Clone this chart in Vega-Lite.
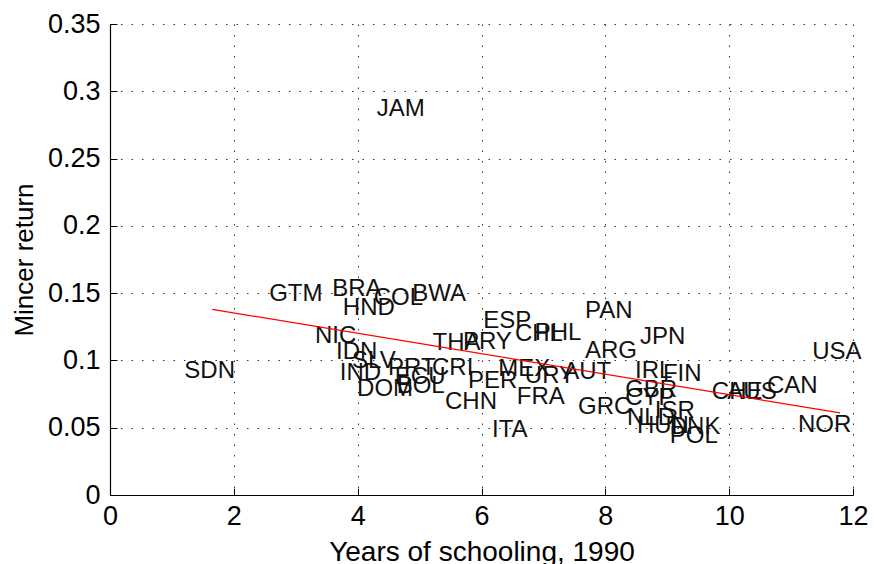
{
  "$schema": "https://vega.github.io/schema/vega-lite/v6.json",
  "width": 743,
  "height": 471,
  "autosize": {"type": "none"},
  "padding": {"left": 110, "top": 24, "right": 21, "bottom": 69},
  "background": "white",
  "config": {
    "view": {"stroke": null},
    "font": "Liberation Sans",
    "axis": {
      "domainColor": "black",
      "domainWidth": 1.2,
      "tickColor": "black",
      "tickSize": -7,
      "labelColor": "black",
      "labelFont": "Liberation Sans",
      "labelFontSize": 27,
      "labelFlush": false,
      "labelOverlap": false,
      "titleFont": "Liberation Sans",
      "titleFontSize": 26,
      "titleFontWeight": "normal",
      "titleColor": "black",
      "grid": true,
      "gridColor": "black",
      "gridDash": [1.5, 9],
      "gridOpacity": 0.8
    }
  },
  "datasets": {
    "countries": [
      {"code": "JAM", "school": 4.31, "mincer": 0.287},
      {"code": "SDN", "school": 1.2, "mincer": 0.0921},
      {"code": "GTM", "school": 2.57, "mincer": 0.1494},
      {"code": "BRA", "school": 3.59, "mincer": 0.153},
      {"code": "HND", "school": 3.76, "mincer": 0.1386},
      {"code": "COL", "school": 4.26, "mincer": 0.1464},
      {"code": "BWA", "school": 4.88, "mincer": 0.1497},
      {"code": "NIC", "school": 3.31, "mincer": 0.118},
      {"code": "IDN", "school": 3.65, "mincer": 0.1059},
      {"code": "IND", "school": 3.71, "mincer": 0.091},
      {"code": "SLV", "school": 3.91, "mincer": 0.0996},
      {"code": "DOM", "school": 3.99, "mincer": 0.0788},
      {"code": "PRT", "school": 4.49, "mincer": 0.0947},
      {"code": "ECU", "school": 4.6, "mincer": 0.0877},
      {"code": "BOL", "school": 4.63, "mincer": 0.081},
      {"code": "THA", "school": 5.21, "mincer": 0.1133},
      {"code": "CRI", "school": 5.2, "mincer": 0.0947},
      {"code": "CHN", "school": 5.41, "mincer": 0.069},
      {"code": "PAN", "school": 7.67, "mincer": 0.1367},
      {"code": "ESP", "school": 6.03, "mincer": 0.1293},
      {"code": "PRY", "school": 5.7, "mincer": 0.1137},
      {"code": "CHL", "school": 6.54, "mincer": 0.1196},
      {"code": "PHL", "school": 6.86, "mincer": 0.1204},
      {"code": "JPN", "school": 8.56, "mincer": 0.1174},
      {"code": "ARG", "school": 7.67, "mincer": 0.107},
      {"code": "MEX", "school": 6.27, "mincer": 0.0936},
      {"code": "PER", "school": 5.78, "mincer": 0.0847},
      {"code": "URY", "school": 6.7, "mincer": 0.0884},
      {"code": "AUT", "school": 7.32, "mincer": 0.0914},
      {"code": "FRA", "school": 6.57, "mincer": 0.0725},
      {"code": "ITA", "school": 6.17, "mincer": 0.0483},
      {"code": "GRC", "school": 7.56, "mincer": 0.0654},
      {"code": "IRL", "school": 8.48, "mincer": 0.0921},
      {"code": "FIN", "school": 8.93, "mincer": 0.0899},
      {"code": "GBR", "school": 8.32, "mincer": 0.078},
      {"code": "CYP", "school": 8.32, "mincer": 0.072},
      {"code": "ISR", "school": 8.8, "mincer": 0.0624},
      {"code": "NLD", "school": 8.35, "mincer": 0.0572},
      {"code": "HUN", "school": 8.51, "mincer": 0.0513},
      {"code": "DNK", "school": 9.04, "mincer": 0.0505},
      {"code": "POL", "school": 9.04, "mincer": 0.0438},
      {"code": "CHE", "school": 9.72, "mincer": 0.0765},
      {"code": "AUS", "school": 9.97, "mincer": 0.0765},
      {"code": "CAN", "school": 10.61, "mincer": 0.081},
      {"code": "USA", "school": 11.34, "mincer": 0.1059},
      {"code": "NOR", "school": 11.11, "mincer": 0.052}
    ],
    "fit": [
      {"school": 1.65, "mincer": 0.138},
      {"school": 11.79, "mincer": 0.061}
    ]
  },
  "layer": [
    {
      "data": {"name": "countries"},
      "mark": {"type": "text", "align": "left", "baseline": "middle", "fontSize": 24, "font": "Liberation Sans", "color": "#111"},
      "encoding": {
        "x": {
          "field": "school", "type": "quantitative",
          "scale": {"domain": [0, 12], "nice": false, "zero": false},
          "axis": {"values": [0, 2, 4, 6, 8, 10, 12], "format": "~g", "title": "Years of schooling, 1990", "titleFontSize": 28, "labelPadding": 15, "titlePadding": 9}
        },
        "y": {
          "field": "mincer", "type": "quantitative",
          "scale": {"domain": [0, 0.35], "nice": false, "zero": false},
          "axis": {"values": [0, 0.05, 0.1, 0.15, 0.2, 0.25, 0.3, 0.35], "format": "~g", "title": "Mincer return", "labelPadding": 17, "titlePadding": 10}
        },
        "text": {"field": "code"}
      }
    },
    {
      "data": {"name": "fit"},
      "mark": {"type": "line", "color": "red", "strokeWidth": 1.2},
      "encoding": {
        "x": {"field": "school", "type": "quantitative"},
        "y": {"field": "mincer", "type": "quantitative"}
      }
    }
  ]
}
